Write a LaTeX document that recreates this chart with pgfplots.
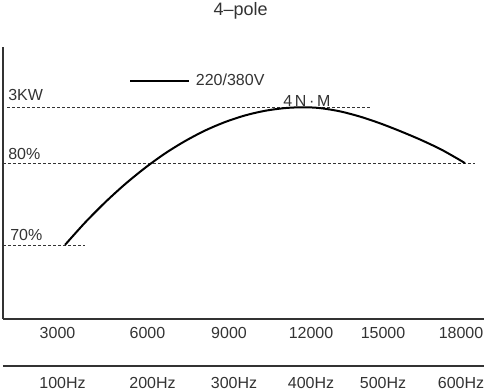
\documentclass[border=0pt]{standalone}
\usepackage{fontspec}
\setmainfont{Liberation Sans}
\usepackage{pgfplots}
\pgfplotsset{compat=1.18}
\definecolor{txt}{HTML}{333333}

\begin{document}
\begin{tikzpicture}[x=1pt,y=1pt]
\useasboundingbox (0,0) rectangle (366,293.25);
\node[anchor=base, text=txt, inner sep=0pt, font=\fontsize{13.5}{15}\selectfont] at (180.4,281.5) {4–pole};
\begin{axis}[
  at={(2.25pt,54pt)}, anchor=south west,
  scale only axis, width=360.75pt, height=204pt,
  xmin=990, xmax=18893, ymin=60.94, ymax=94.2,
  axis x line=bottom, axis y line=left,
  axis line style={-, line width=1pt, draw=txt},
  ytick=\empty, scaled x ticks=false,
  xtick={3019,6368,9402,12454,15134,18037},
  xticklabels={3000,6000,9000,12000,15000,18000},
  major tick length=0pt,
  xticklabel style={anchor=base, inner sep=0pt, yshift=-14.5pt, text=txt, font=\fontsize{12}{14}\selectfont},
  clip=false,
  legend style={at={(axis cs:5680,90.07)}, anchor=west, draw=none, fill=none, inner sep=0pt,
    nodes={inner sep=0pt, text=txt, font=\fontsize{12}{14}\selectfont}, column sep=4.5pt},
  legend image code/.code={\draw[#1] (0pt,0pt) -- (44pt,0pt);},
]
\addplot[forget plot, txt, line width=0.5pt, dash pattern=on 2.25pt off 1.5pt] coordinates {(1139,86.83) (14650,86.83)};
\addplot[forget plot, txt, line width=0.5pt, dash pattern=on 2.25pt off 1.5pt] coordinates {(990,80) (18558,80)};
\addplot[forget plot, txt, line width=0.5pt, dash pattern=on 2.25pt off 1.5pt] coordinates {(990,70) (4042,70)};
\addplot[black, line width=1.5pt, smooth] coordinates {
(3298,70.00) (4042,72.72) (4787,75.19) (5531,77.42) (6275,79.41) (7020,81.18)
(7764,82.69) (8509,83.98) (9253,85.02) (9998,85.83) (10742,86.40) (11486,86.73)
(12156,86.83) (12789,86.73) (13533,86.33) (14277,85.69) (15022,84.87) (15766,83.92)
(16511,82.89) (17255,81.74) (17814,80.72) (18186,80.00)};
\addlegendentry{220/380V}
\node[anchor=base west, inner sep=0pt, text=txt, font=\fontsize{12}{14}\selectfont] at (axis cs:1176,87.71) {3KW};
\node[anchor=base west, inner sep=0pt, text=txt, font=\fontsize{12}{14}\selectfont] at (axis cs:1176,80.45) {80\%};
\node[anchor=base west, inner sep=0pt, text=txt, font=\fontsize{12}{14}\selectfont] at (axis cs:1251,70.58) {70\%};
\node[anchor=base west, inner sep=0pt, text=txt, font=\fontsize{12}{14}\selectfont] at (axis cs:11412,86.98) {4\,N\,·\,M};
\end{axis}
\begin{axis}[
  at={(2.25pt,18.75pt)}, anchor=south west,
  scale only axis, width=360.75pt, height=10pt,
  xmin=990, xmax=18893, ymin=0, ymax=1,
  axis x line=bottom, axis y line=none,
  axis line style={-, line width=1pt, draw=txt},
  scaled x ticks=false,
  xtick={3205,6555,9588,12454,15134,18037},
  xticklabels={100Hz,200Hz,300Hz,400Hz,500Hz,600Hz},
  major tick length=0pt,
  xticklabel style={anchor=base, inner sep=0pt, yshift=-17.25pt, text=txt, font=\fontsize{12}{14}\selectfont},
]
\end{axis}
\end{tikzpicture}
\end{document}
